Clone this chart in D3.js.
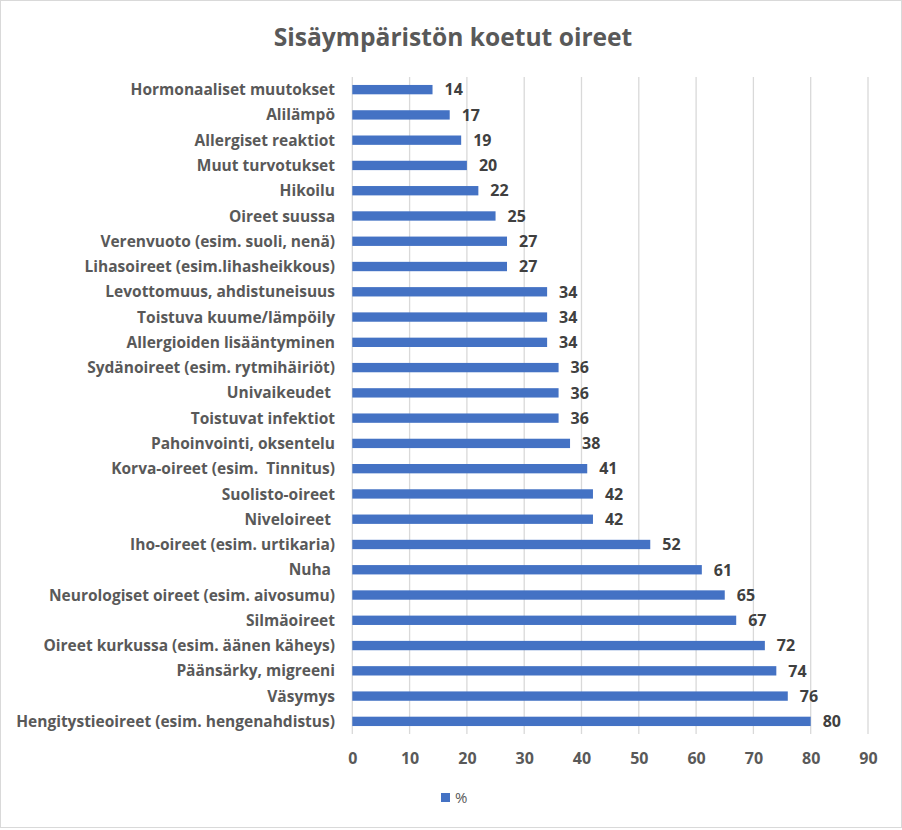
<!DOCTYPE html>
<html><head><meta charset="utf-8">
<script src="https://cdn.jsdelivr.net/npm/d3@7"></script>
<style>body{margin:0;background:#fff}svg{display:block}</style>
</head><body>
<script>
const categories = ["Hormonaaliset muutokset","Alilämpö","Allergiset reaktiot","Muut turvotukset","Hikoilu","Oireet suussa","Verenvuoto (esim. suoli, nenä)","Lihasoireet (esim.lihasheikkous)","Levottomuus, ahdistuneisuus","Toistuva kuume/lämpöily","Allergioiden lisääntyminen","Sydänoireet (esim. rytmihäiriöt)","Univaikeudet ","Toistuvat infektiot","Pahoinvointi, oksentelu","Korva-oireet (esim.  Tinnitus)","Suolisto-oireet","Niveloireet ","Iho-oireet (esim. urtikaria)","Nuha ","Neurologiset oireet (esim. aivosumu)","Silmäoireet","Oireet kurkussa (esim. äänen käheys)","Päänsärky, migreeni","Väsymys","Hengitystieoireet (esim. hengenahdistus)"];
const values = [14,17,19,20,22,25,27,27,34,34,34,36,36,36,38,41,42,42,52,61,65,67,72,74,76,80];
const xTicks = [0,10,20,30,40,50,60,70,80,90];
const seriesName = "%";
const title = "Sisäympäristön koetut oireet";

const W = 902, H = 830;
const FONT = "'Open Sans', sans-serif";
const svg = d3.select("body").append("svg").attr("width", W).attr("height", H);
svg.append("rect").attr("x",0.5).attr("y",0.5).attr("width",W-1).attr("height",H-3)
  .attr("fill","#fff").attr("stroke","#d9d9d9");

svg.append("text").attr("x",453).attr("y",46).attr("text-anchor","middle")
  .attr("font-family",FONT).attr("font-weight","bold").attr("font-size",24.6)
  .attr("fill","#595959").text(title);

const x = d3.scaleLinear().domain([0,90]).range([352.3,868]);
const y = d3.scaleBand().domain(categories).range([77,734]).paddingInner(0.63).paddingOuter(0.315);

const g = svg.append("g");
g.selectAll("line.grid").data(xTicks).join("line").attr("class","grid")
  .attr("x1",d=>x(d)).attr("x2",d=>x(d)).attr("y1",77).attr("y2",734)
  .attr("stroke","#d9d9d9").attr("stroke-width",1.3);

g.selectAll("rect.bar").data(values).join("rect").attr("class","bar")
  .attr("x",x(0)).attr("y",(d,i)=>y(categories[i]))
  .attr("width",d=>x(d)-x(0)).attr("height",y.bandwidth()).attr("fill","#4472C4");

g.selectAll("text.val").data(values).join("text").attr("class","val")
  .attr("x",d=>x(d)+12).attr("y",(d,i)=>y(categories[i])+y.bandwidth()/2)
  .attr("dy","0.36em").attr("font-family",FONT).attr("font-weight","bold")
  .attr("font-size",16).attr("fill","#404040").text(d=>d);

g.selectAll("text.cat").data(categories).join("text").attr("class","cat")
  .attr("x",335).attr("y",d=>y(d)+y.bandwidth()/2).attr("dy","0.36em")
  .attr("text-anchor","end").attr("font-family",FONT).attr("font-weight","bold")
  .attr("font-size",15.5).attr("fill","#595959").attr("xml:space","preserve")
  .style("white-space","pre").text(d=>d);

const ax = svg.append("g").attr("transform","translate(0,758)")
  .call(d3.axisBottom(x).tickValues(xTicks).tickSize(0).tickPadding(0));
ax.select(".domain").remove();
ax.selectAll("text").attr("font-family",FONT).attr("font-weight","bold")
  .attr("font-size",16).attr("fill","#595959").attr("dy","0.36em");

const lg = svg.append("g").attr("transform","translate(441,793)");
lg.append("rect").attr("width",9).attr("height",9).attr("fill","#4472C4");
lg.append("text").attr("x",14).attr("y",4.5).attr("dy","0.36em")
  .attr("font-family",FONT).attr("font-size",15).attr("fill","#595959").text(seriesName);
</script>
</body></html>
